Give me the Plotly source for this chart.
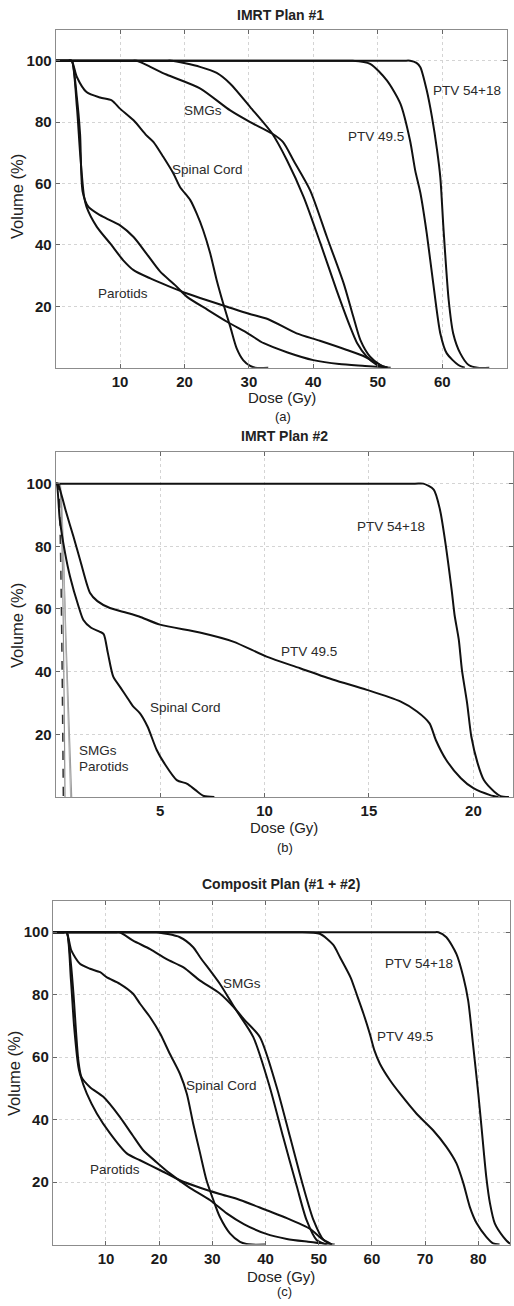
import plotly.graph_objects as go

W, H = 514, 1306

# ---------------- IMRT Plan #1 ----------------
a_ptv5418_dose = [0, 54.0, 55.0, 56.0, 56.6, 57.6, 58.4, 59.2, 59.7, 60.2, 61.0, 61.7, 62.8, 64.1, 65.5, 67.3]
a_ptv5418_vol = [100, 100, 100, 99.3, 97.9, 90.3, 81.7, 70.8, 62, 45, 22, 11.2, 4.7, 0.9, 0, 0]
a_ptv495_dose = [0, 45.0, 46.0, 48.8, 51.4, 53.5, 55.0, 55.8, 56.6, 57.6, 58.6, 59.7, 60.7, 62.5, 63.5]
a_ptv495_vol = [100, 100, 100, 99, 93.6, 86, 74, 64.3, 57, 43.7, 27.5, 11.2, 4.7, 0.9, 0]
a_smg1_dose = [0, 11.6, 12.6, 14.7, 17.2, 22.4, 27.1, 30.2, 33.6, 35.3, 36.9, 39.5, 42.1, 44.7, 46.2, 47.3,
               48.8, 50.4, 51.5]
a_smg1_vol = [100, 100, 100, 98, 95.5, 91, 83.8, 80, 76.3, 73.5, 67.6, 57.8, 42.6, 27.5, 16.6, 9,
              3.6, 0.9, 0]
a_smg2_dose = [0, 17.0, 18.0, 22.4, 25.0, 27.1, 30.2, 33.6, 35.9, 38.5, 41.1, 43.6, 45.7, 46.8, 48.3, 49.9, 51.0]
a_smg2_vol = [100, 100, 100, 98, 96, 92.5, 84.9, 76.3, 67.6, 55.6, 40.5, 25.3, 13.4, 8, 3.6, 0.9, 0]
a_cord_dose = [0, 2.0, 2.5, 3.3, 4.8, 6.9, 8.7, 10.0, 12.1, 14.1, 15.2, 16.7, 18.3, 19.3, 20.9, 21.9, 22.9,
               24.0, 25.0, 26.0, 27.1, 28.1, 29.1, 30.2, 31.0, 33.0]
a_cord_vol = [100, 100, 100, 94.7, 89.8, 88, 87.1, 84.4, 80.6, 75.7, 73.5, 68.7, 63.2, 58.9, 54.6, 50.2, 44.8,
              37.2, 28.5, 21, 13.4, 6.3, 2.5, 0.6, 0, 0]
a_par1_dose = [0, 2.0, 2.5, 3.3, 3.8, 4.2, 5.1, 6.9, 8.5, 10.0, 12.1, 14.1, 16.2, 18.5, 20.4, 23.5, 26.6,
               30.0, 32.3, 36.0, 40.0, 44.0, 48.0, 50.5, 52.0]
a_par1_vol = [100, 100, 100, 88, 76, 57.3, 52.4, 49.7, 48, 46.4, 42.6, 37.2, 31.4, 27, 23.1, 19, 15,
              11, 8, 5, 2.5, 1.2, 0.6, 0.2, 0]
a_par2_dose = [0, 2.0, 2.5, 3.3, 3.8, 4.4, 4.8, 6.4, 8.5, 10.5, 12.1, 14.7, 17.5, 20.4, 23.5, 26.6, 30.0,
               33.0, 37.4, 41.0, 45.2, 48.0, 49.3, 50.5, 51.5]
a_par2_vol = [100, 100, 100, 85, 70, 56, 52.4, 45.9, 40.4, 35, 31.8, 29.1, 26.6, 24.2, 22, 19.9, 17.6,
              15.8, 11.2, 8.8, 5.8, 3.6, 2, 0.8, 0]

# ---------------- IMRT Plan #2 ----------------
b_ptv5418_dose = [0, 17.2, 17.6, 18.1, 18.4, 18.64, 18.96, 19.1, 19.3, 19.45, 19.7, 19.9, 20.2, 20.5, 21.0,
                  21.3, 21.7]
b_ptv5418_vol = [100, 100, 100, 98.1, 91.7, 82, 66, 58, 50.2, 40.6, 29.9, 19.3, 10.8, 5.4, 1.7, 0.3, 0]
b_ptv495_dose = [0, 0.1, 0.3, 0.5, 0.85, 1.2, 1.65, 2.0, 2.6, 3.4, 4.0, 5.0, 6.9, 8.5, 10.1, 11.7,
                 13.3, 14.9, 16.5, 17.3, 17.9, 18.2, 18.7, 19.4, 20.0, 20.8, 21.2]
b_ptv495_vol = [100, 100, 96, 91, 83.2, 75, 65.1, 62.5, 60.3, 58.8, 57.6, 55, 52.5, 49.6, 44.8, 41.1,
                37.4, 34.2, 30.5, 27.3, 23.5, 18.2, 11.8, 6, 2.8, 0.6, 0]
b_cord_dose = [0, 0.05, 0.2, 0.45, 0.69, 1.1, 1.33, 1.7, 2.1, 2.3, 2.5, 2.76, 3.1, 3.4, 3.7, 4.04,
               4.4, 4.84, 5.2, 5.8, 6.3, 6.7, 7.1, 7.6]
b_cord_vol = [100, 100, 88.5, 78, 70.4, 60.8, 56.5, 54, 52.8, 52, 46, 38.4, 35, 32, 29, 26.7,
              22.5, 15, 10.8, 5.4, 4.2, 2.2, 0.3, 0]
b_smg1_dose = [0, 0.2, 0.5, 0.77]
b_smg1_vol = [100, 100, 50, 0]
b_smg2_dose = [0, 0.22, 0.48, 0.72]
b_smg2_vol = [100, 100, 50, 0]
b_par1_dose = [0, 0.12, 0.37]
b_par1_vol = [100, 100, 0]
b_par2_dose = [0, 0.18, 0.45]
b_par2_vol = [100, 100, 0]

# ---------------- Composite plan ----------------
c_ptv5418_dose = [0, 71.5, 72.5, 74.0, 75.9, 77.2, 78.1, 79.0, 80.0, 80.6, 81.5, 82.2, 83.1, 84.7, 85.9, 86.5]
c_ptv5418_vol = [100, 100, 100, 98.4, 93, 85.6, 78.1, 64.3, 48.3, 37.7, 21.7, 13.2, 6.8, 2.5, 0.4, 0]
c_ptv495_dose = [0, 45.5, 46.5, 50.2, 52.7, 54.0, 56.0, 57.1, 58.4, 59.6, 60.5, 61.5, 63.4, 65.3, 68.4,
                 71.5, 74.0, 75.9, 77.2, 78.4, 79.7, 81.5, 82.8, 84.0]
c_ptv495_vol = [100, 100, 100, 99.5, 96, 92, 85.5, 80.3, 74, 67.5, 62, 57.9, 52.6, 48.3, 41.9,
                36.6, 31.3, 26, 19.6, 12.1, 6.8, 2.5, 0.4, 0]
c_smg1_dose = [0, 11.6, 12.6, 15.1, 18.3, 21.4, 24.5, 27.7, 31.4, 34.3, 36.0, 38.95, 42.1, 44.6, 47.1,
               49.0, 50.9, 52.5]
c_smg1_vol = [100, 100, 100, 97.3, 94.6, 91.4, 88.8, 84.5, 80.4, 75.5, 72, 66.4, 50.4, 34.5, 18.5,
              7.9, 1.5, 0]
c_smg2_dose = [0, 18.5, 19.5, 23.9, 26.4, 27.7, 31.4, 34.3, 37.7, 40.8, 43.3, 45.9, 47.7, 49.6, 51.5]
c_smg2_vol = [100, 100, 100, 98.4, 95.2, 92, 83.5, 75.5, 66.4, 50.4, 34.5, 18.5, 7.9, 1.5, 0]
c_cord_dose = [0, 2.0, 2.6, 3.5, 5.1, 7.0, 8.9, 10.1, 12.6, 15.1, 16.4, 18.3, 20.2, 22.0, 23.9, 25.2,
               26.4, 27.7, 28.9, 30.2, 31.4, 33.3, 35.2, 36.4, 37.5, 40.0]
c_cord_vol = [100, 100, 100, 94.1, 89.9, 88.3, 87.2, 85.6, 83.5, 80.3, 77.1, 72.8, 67.5, 61.1, 54.7, 48.3,
              38.7, 29.2, 20.6, 14.2, 8.9, 3.6, 0.9, 0.2, 0, 0]
c_par1_dose = [0, 2.0, 2.6, 3.4, 3.9, 4.8, 5.4, 7.0, 9.5, 12.6, 15.0, 17.0, 19.5, 22.0, 25.5, 29.6, 32.7,
               36.0, 40.0, 44.0, 48.0, 51.0, 53.0]
c_par1_vol = [100, 100, 100, 90, 80, 59, 53.6, 50.4, 47.3, 40.9, 35, 30.2, 26.4, 22.8, 18.5, 14.2, 10,
              6.5, 3.5, 1.8, 0.9, 0.3, 0]
c_par2_dose = [0, 2.0, 2.6, 3.4, 4.0, 4.8, 5.1, 6.4, 8.3, 10.8, 13.9, 16.4, 20.2, 23.9, 27.7, 31.4,
               35.2, 40.2, 44.0, 48.4, 50.5, 52.5]
c_par2_vol = [100, 100, 100, 85, 70, 57, 54.7, 48.3, 41.9, 35.5, 29.2, 27, 23.8, 20.6, 18.2, 16.2,
              14.3, 11, 8.5, 5, 2, 0]

# tick values
ticks_vol = [20, 40, 60, 80, 100]
ticks_dose_a = [10, 20, 30, 40, 50, 60, 70]
ticks_dose_b = [5, 10, 15, 20]
ticks_dose_c = [10, 20, 30, 40, 50, 60, 70, 80]

titles = ["IMRT Plan #1", "IMRT Plan #2", "Composit Plan (#1 + #2)"]
captions = ["(a)", "(b)", "(c)"]

FONT = "Liberation Sans, Arial, sans-serif"
BLACK = "#111111"

fig = go.Figure()


def curve(x, y, ax, color=BLACK, width=2.0, dash="solid", smoothing=0.7):
    fig.add_trace(go.Scatter(
        x=x, y=y, mode="lines", xaxis=ax[0], yaxis=ax[1],
        line=dict(color=color, width=width, dash=dash, shape="spline", smoothing=smoothing),
        hoverinfo="skip", showlegend=False))


A = ("x", "y")
B = ("x2", "y2")
C = ("x3", "y3")

for d, v in [(a_ptv5418_dose, a_ptv5418_vol), (a_ptv495_dose, a_ptv495_vol),
             (a_smg1_dose, a_smg1_vol), (a_smg2_dose, a_smg2_vol),
             (a_cord_dose, a_cord_vol), (a_par1_dose, a_par1_vol), (a_par2_dose, a_par2_vol)]:
    curve(d, v, A)

curve(b_smg1_dose, b_smg1_vol, B, color="#9a9a9a", width=1.2, smoothing=0.3)
curve(b_smg2_dose, b_smg2_vol, B, color="#b0b0b0", width=1.2, smoothing=0.3)
curve(b_par2_dose, b_par2_vol, B, color="#8c8c8c", width=1.2, smoothing=0.3)
curve(b_par1_dose, b_par1_vol, B, color="#333333", width=1.5, dash="dash", smoothing=0.3)
for d, v in [(b_ptv5418_dose, b_ptv5418_vol), (b_ptv495_dose, b_ptv495_vol), (b_cord_dose, b_cord_vol)]:
    curve(d, v, B)

for d, v in [(c_ptv5418_dose, c_ptv5418_vol), (c_ptv495_dose, c_ptv495_vol),
             (c_smg1_dose, c_smg1_vol), (c_smg2_dose, c_smg2_vol),
             (c_cord_dose, c_cord_vol), (c_par1_dose, c_par1_vol), (c_par2_dose, c_par2_vol)]:
    curve(d, v, C)


def px_x(px):
    return px / W


def px_y(py):
    return 1 - py / H


axis_common = dict(
    showline=True, linecolor="#8c8c8c", linewidth=1, mirror="ticks",
    ticks="inside", ticklen=4, tickcolor="#666666", tickwidth=1,
    showgrid=True, gridcolor="#d4d4d4", griddash="dot", gridwidth=1,
    zeroline=False, fixedrange=True,
    tickfont=dict(family=FONT, size=15, color="#1a1a1a", weight="bold"),
)

# plot areas in pixels: (left, right, top, bottom)
boxes = [(55.6, 506.7, 30.0, 367.8), (55.6, 513.1, 452.3, 797.0), (52.8, 510.2, 901.0, 1244.6)]
xranges = [[0, 70], [0, 21.9], [0, 86]]
xticks = [ticks_dose_a, ticks_dose_b, ticks_dose_c]

layout_axes = {}
for i, (l, r, t, b) in enumerate(boxes):
    sx = "" if i == 0 else str(i + 1)
    layout_axes["xaxis" + sx] = dict(axis_common, domain=[px_x(l), px_x(r)], range=xranges[i],
                                     tickvals=xticks[i], anchor="y" + sx)
    layout_axes["yaxis" + sx] = dict(axis_common, domain=[px_y(b), px_y(t)], range=[0, 110],
                                     tickvals=ticks_vol, anchor="x" + sx)

annotations = []


def text(x, y, s, size=13.5, weight="normal", angle=0, color="#222222", xanchor="center",
         xref="paper", yref="paper"):
    annotations.append(dict(x=x, y=y, text=s, showarrow=False, xref=xref, yref=yref,
                            xanchor=xanchor, yanchor="middle", textangle=angle,
                            font=dict(family=FONT, size=size, color=color, weight=weight)))


# panel titles, axis titles and captions (pixel positions)
title_pos = [(280, 15), (284, 436), (281, 884)]
xlabel_pos = [(282, 397), (284, 827), (280.5, 1276)]
ylabel_pos = [(17, 197), (17, 626), (14, 1074)]
caption_pos = [(283, 416), (285, 847), (284, 1291)]
for i in range(3):
    text(px_x(title_pos[i][0]), px_y(title_pos[i][1]), titles[i], size=14, weight="bold")
    text(px_x(xlabel_pos[i][0]), px_y(xlabel_pos[i][1]), "Dose (Gy)", size=15)
    text(px_x(ylabel_pos[i][0]), px_y(ylabel_pos[i][1]), "Volume (%)", size=16.5, angle=-90)
    text(px_x(caption_pos[i][0]), px_y(caption_pos[i][1]), captions[i], size=13)

# structure labels in data coordinates
labels_a = [(63.9, 90.3, "PTV 54+18"), (49.7, 75.2, "PTV 49.5"), (22.8, 83.8, "SMGs"),
            (23.6, 64.6, "Spinal Cord"), (10.4, 24.2, "Parotids")]
labels_b = [(16.04, 86.2, "PTV 54+18"), (12.15, 46.4, "PTV 49.5"), (6.24, 28.6, "Spinal Cord")]
labels_c = [(68.9, 89.9, "PTV 54+18"), (66.2, 66.7, "PTV 49.5"), (35.5, 83.7, "SMGs"),
            (31.7, 51.0, "Spinal Cord"), (11.7, 24.0, "Parotids")]
for (x, y, s) in labels_a:
    text(x, y, s, xref="x", yref="y", color="#2a2a2a")
for (x, y, s) in labels_b:
    text(x, y, s, xref="x2", yref="y2", color="#2a2a2a")
text(1.04, 15.0, "SMGs", xref="x2", yref="y2", color="#2a2a2a", xanchor="left")
text(1.04, 9.7, "Parotids", xref="x2", yref="y2", color="#2a2a2a", xanchor="left")
for (x, y, s) in labels_c:
    text(x, y, s, xref="x3", yref="y3", color="#2a2a2a")

fig.update_layout(
    width=W, height=H, autosize=False,
    margin=dict(l=0, r=0, t=0, b=0, pad=0),
    paper_bgcolor="white", plot_bgcolor="white",
    showlegend=False,
    annotations=annotations,
    **layout_axes,
)

fig.write_html("out.html")
